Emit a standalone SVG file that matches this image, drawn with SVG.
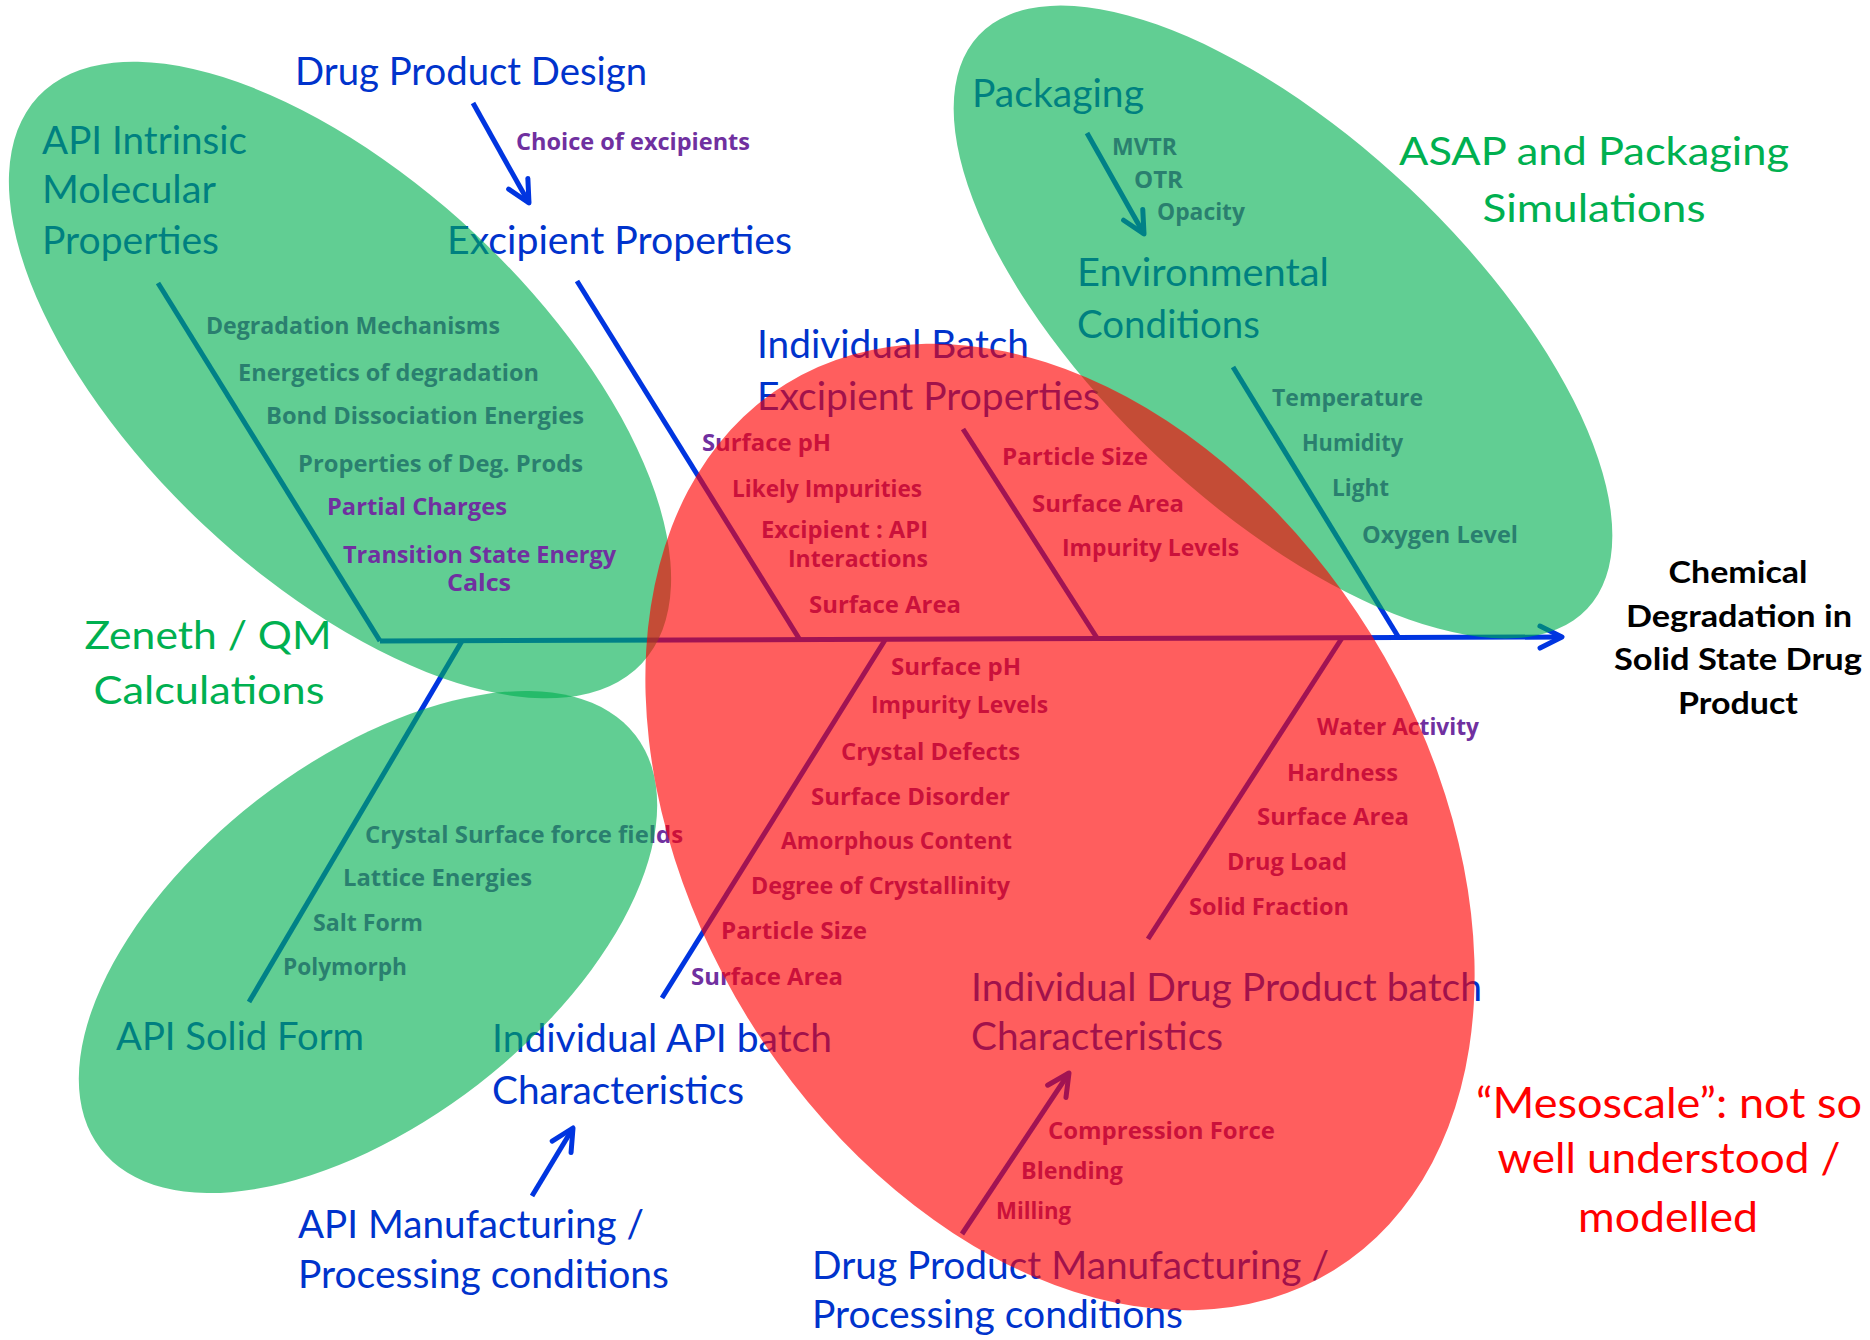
<svg xmlns="http://www.w3.org/2000/svg" width="1870" height="1340" viewBox="0 0 1870 1340">
  <style>
    .title { font-family: Lato, "Liberation Sans", sans-serif; font-size: 39px; fill: #0033CC; }
    .green { font-family: Lato, "Liberation Sans", sans-serif; font-size: 39px; fill: #00B050; }
    .meso { font-family: Lato, "Liberation Sans", sans-serif; font-size: 43px; fill: #FF0000; text-anchor: middle; }
    .effect { font-family: Lato, "Liberation Sans", sans-serif; font-size: 30px; font-weight: 700; fill: #000000; text-anchor: middle; }
    .item { font-family: "Open Sans", "Liberation Sans", sans-serif; font-size: 23px; font-weight: 700; fill: #7030A0; }
    .mid { text-anchor: middle; }
    .bone { fill: none; stroke: #0035E0; stroke-width: 5; }
    .zone-green { fill: #00B050; fill-opacity: 0.62; }
    .zone-red { fill: #FF0000; fill-opacity: 0.63; }
  </style>
  <defs>
    <marker id="openArrow" markerUnits="userSpaceOnUse" markerWidth="40" markerHeight="40" viewBox="0 0 40 40" refX="30" refY="20" orient="auto" overflow="visible">
      <path d="M8,9 L30,20 L8,31" fill="none" stroke="#0035E0" stroke-width="5" stroke-linecap="round" stroke-linejoin="round"/>
    </marker>
  </defs>

  <rect width="1870" height="1340" fill="#FFFFFF"/>

  <!-- fishbone: spine, ribs and influence arrows -->
  <g id="connectors">
    <path class="bone" d="M380,641 L1562,637" marker-end="url(#openArrow)"/>
    <path class="bone" d="M158,283 L380,641"/>
    <path class="bone" d="M577,281 L800,640"/>
    <path class="bone" d="M963,429 L1097,638"/>
    <path class="bone" d="M1233,367 L1399,638"/>
    <path class="bone" d="M462,641 L249,1002"/>
    <path class="bone" d="M885,640 L662,998"/>
    <path class="bone" d="M1342,638 L1148,939"/>
    <path class="bone" d="M473,103 L529,203" marker-end="url(#openArrow)"/>
    <path class="bone" d="M1087,133 L1144,234" marker-end="url(#openArrow)"/>
    <path class="bone" d="M532,1196 L573,1128" marker-end="url(#openArrow)"/>
    <path class="bone" d="M962,1234 L1069,1073" marker-end="url(#openArrow)"/>
  </g>

  <!-- API intrinsic molecular properties -->
  <g id="api-intrinsic">
    <text class="title" x="42" y="154" textLength="205" lengthAdjust="spacingAndGlyphs">API Intrinsic</text>
    <text class="title" x="42" y="203" textLength="174" lengthAdjust="spacingAndGlyphs">Molecular</text>
    <text class="title" x="42" y="254" textLength="177" lengthAdjust="spacingAndGlyphs">Properties</text>
    <text class="item" x="206" y="334" textLength="294" lengthAdjust="spacingAndGlyphs">Degradation Mechanisms</text>
    <text class="item" x="238" y="381" textLength="301" lengthAdjust="spacingAndGlyphs">Energetics of degradation</text>
    <text class="item" x="266" y="424" textLength="318" lengthAdjust="spacingAndGlyphs">Bond Dissociation Energies</text>
    <text class="item" x="298" y="472" textLength="285" lengthAdjust="spacingAndGlyphs">Properties of Deg. Prods</text>
  </g>

  <!-- drug product design / excipient properties -->
  <g id="drug-product-design">
    <text class="title" x="295" y="85" textLength="352" lengthAdjust="spacingAndGlyphs">Drug Product Design</text>
    <text class="item" x="516" y="150" textLength="234" lengthAdjust="spacingAndGlyphs">Choice of excipients</text>
  </g>
  <g id="excipient-properties">
    <text class="title" x="447" y="254" textLength="345" lengthAdjust="spacingAndGlyphs">Excipient Properties</text>
    <text class="item" x="702" y="451" textLength="129" lengthAdjust="spacingAndGlyphs">Surface pH</text>
    <text class="item" x="732" y="497" textLength="190" lengthAdjust="spacingAndGlyphs">Likely Impurities</text>
    <text class="item" x="761" y="538" textLength="167" lengthAdjust="spacingAndGlyphs">Excipient : API</text>
    <text class="item" x="788" y="567" textLength="140" lengthAdjust="spacingAndGlyphs">Interactions</text>
    <text class="item" x="809" y="613" textLength="152" lengthAdjust="spacingAndGlyphs">Surface Area</text>
  </g>

  <!-- individual batch excipient properties -->
  <g id="batch-excipient">
    <text class="title" x="757" y="358" textLength="272" lengthAdjust="spacingAndGlyphs">Individual Batch</text>
    <text class="title" x="757" y="410" textLength="343" lengthAdjust="spacingAndGlyphs">Excipient Properties</text>
    <text class="item" x="1002" y="465" textLength="146" lengthAdjust="spacingAndGlyphs">Particle Size</text>
    <text class="item" x="1032" y="512" textLength="152" lengthAdjust="spacingAndGlyphs">Surface Area</text>
    <text class="item" x="1062" y="556" textLength="177" lengthAdjust="spacingAndGlyphs">Impurity Levels</text>
  </g>

  <!-- packaging and environmental conditions -->
  <g id="packaging">
    <text class="title" x="972" y="107" textLength="172" lengthAdjust="spacingAndGlyphs">Packaging</text>
    <text class="item" x="1112" y="155" textLength="65" lengthAdjust="spacingAndGlyphs">MVTR</text>
    <text class="item" x="1134" y="188" textLength="49" lengthAdjust="spacingAndGlyphs">OTR</text>
    <text class="item" x="1157" y="220" textLength="88" lengthAdjust="spacingAndGlyphs">Opacity</text>
  </g>
  <g id="environmental-conditions">
    <text class="title" x="1077" y="286" textLength="252" lengthAdjust="spacingAndGlyphs">Environmental</text>
    <text class="title" x="1077" y="338" textLength="183" lengthAdjust="spacingAndGlyphs">Conditions</text>
    <text class="item" x="1272" y="406" textLength="151" lengthAdjust="spacingAndGlyphs">Temperature</text>
    <text class="item" x="1302" y="451" textLength="101" lengthAdjust="spacingAndGlyphs">Humidity</text>
    <text class="item" x="1332" y="496" textLength="57" lengthAdjust="spacingAndGlyphs">Light</text>
    <text class="item" x="1362" y="543" textLength="156" lengthAdjust="spacingAndGlyphs">Oxygen Level</text>
  </g>

  <!-- API solid form -->
  <g id="api-solid-form">
    <text class="item" x="365" y="843" textLength="318" lengthAdjust="spacingAndGlyphs">Crystal Surface force fields</text>
    <text class="item" x="343" y="886" textLength="189" lengthAdjust="spacingAndGlyphs">Lattice Energies</text>
    <text class="item" x="313" y="931" textLength="110" lengthAdjust="spacingAndGlyphs">Salt Form</text>
    <text class="item" x="283" y="975" textLength="124" lengthAdjust="spacingAndGlyphs">Polymorph</text>
    <text class="title" x="116" y="1050" textLength="248" lengthAdjust="spacingAndGlyphs">API Solid Form</text>
  </g>

  <!-- individual API batch characteristics -->
  <g id="api-batch">
    <text class="item" x="891" y="675" textLength="130" lengthAdjust="spacingAndGlyphs">Surface pH</text>
    <text class="item" x="871" y="713" textLength="177" lengthAdjust="spacingAndGlyphs">Impurity Levels</text>
    <text class="item" x="841" y="760" textLength="179" lengthAdjust="spacingAndGlyphs">Crystal Defects</text>
    <text class="item" x="811" y="805" textLength="199" lengthAdjust="spacingAndGlyphs">Surface Disorder</text>
    <text class="item" x="781" y="849" textLength="231" lengthAdjust="spacingAndGlyphs">Amorphous Content</text>
    <text class="item" x="751" y="894" textLength="259" lengthAdjust="spacingAndGlyphs">Degree of Crystallinity</text>
    <text class="item" x="721" y="939" textLength="146" lengthAdjust="spacingAndGlyphs">Particle Size</text>
    <text class="item" x="691" y="985" textLength="152" lengthAdjust="spacingAndGlyphs">Surface Area</text>
    <text class="title" x="492" y="1052" textLength="340" lengthAdjust="spacingAndGlyphs">Individual API batch</text>
    <text class="title" x="492" y="1104" textLength="252" lengthAdjust="spacingAndGlyphs">Characteristics</text>
  </g>
  <g id="api-manufacturing">
    <text class="title" x="298" y="1238" textLength="346" lengthAdjust="spacingAndGlyphs">API Manufacturing /</text>
    <text class="title" x="298" y="1288" textLength="371" lengthAdjust="spacingAndGlyphs">Processing conditions</text>
  </g>

  <!-- individual drug product batch characteristics -->
  <g id="dp-batch">
    <text class="item" x="1317" y="735" textLength="162" lengthAdjust="spacingAndGlyphs">Water Activity</text>
    <text class="item" x="1287" y="781" textLength="111" lengthAdjust="spacingAndGlyphs">Hardness</text>
    <text class="item" x="1257" y="825" textLength="152" lengthAdjust="spacingAndGlyphs">Surface Area</text>
    <text class="item" x="1227" y="870" textLength="120" lengthAdjust="spacingAndGlyphs">Drug Load</text>
    <text class="item" x="1189" y="915" textLength="160" lengthAdjust="spacingAndGlyphs">Solid Fraction</text>
    <text class="title" x="971" y="1001" textLength="511" lengthAdjust="spacingAndGlyphs">Individual Drug Product batch</text>
    <text class="title" x="971" y="1050" textLength="252" lengthAdjust="spacingAndGlyphs">Characteristics</text>
  </g>
  <g id="dp-manufacturing">
    <text class="item" x="1048" y="1139" textLength="227" lengthAdjust="spacingAndGlyphs">Compression Force</text>
    <text class="item" x="1021" y="1179" textLength="102" lengthAdjust="spacingAndGlyphs">Blending</text>
    <text class="item" x="996" y="1219" textLength="75" lengthAdjust="spacingAndGlyphs">Milling</text>
    <text class="title" x="812" y="1279" textLength="517" lengthAdjust="spacingAndGlyphs">Drug Product Manufacturing /</text>
    <text class="title" x="812" y="1328" textLength="371" lengthAdjust="spacingAndGlyphs">Processing conditions</text>
  </g>

  <!-- translucent modelling zones laid over the diagram -->
  <g id="zones">
    <ellipse class="zone-green" cx="340" cy="380" rx="414" ry="199" transform="rotate(43.2 340 380)"/>
    <ellipse class="zone-green" cx="368" cy="942" rx="338" ry="180" transform="rotate(-37.7 368 942)"/>
    <ellipse class="zone-green" cx="1283" cy="322" rx="418" ry="184" transform="rotate(43.3 1283 322)"/>
    <ellipse class="zone-red" cx="1060" cy="827" rx="521" ry="366" transform="rotate(58.3 1060 827)"/>
  </g>

  <!-- QM-derived items, drawn above the zone -->
  <g id="qm-items">
    <text class="item" x="327" y="515" textLength="180" lengthAdjust="spacingAndGlyphs">Partial Charges</text>
    <text class="item" x="343" y="563" textLength="273" lengthAdjust="spacingAndGlyphs">Transition State Energy</text>
    <text class="item" x="447" y="591" textLength="64" lengthAdjust="spacingAndGlyphs">Calcs</text>
  </g>

  <!-- zone captions -->
  <g id="zone-labels">
    <text class="green mid" x="208" y="649" textLength="247" lengthAdjust="spacingAndGlyphs">Zeneth / QM</text>
    <text class="green mid" x="209" y="704" textLength="231" lengthAdjust="spacingAndGlyphs">Calculations</text>
    <text class="green mid" x="1594" y="165" textLength="390" lengthAdjust="spacingAndGlyphs">ASAP and Packaging</text>
    <text class="green mid" x="1594" y="222" textLength="223" lengthAdjust="spacingAndGlyphs">Simulations</text>
    <text class="meso" x="1669" y="1118" textLength="386" lengthAdjust="spacingAndGlyphs">“Mesoscale”: not so</text>
    <text class="meso" x="1669" y="1173" textLength="343" lengthAdjust="spacingAndGlyphs">well understood /</text>
    <text class="meso" x="1668" y="1232" textLength="180" lengthAdjust="spacingAndGlyphs">modelled</text>
  </g>

  <!-- effect at the head of the fishbone -->
  <g id="effect">
    <text class="effect" x="1738" y="583" textLength="139" lengthAdjust="spacingAndGlyphs">Chemical</text>
    <text class="effect" x="1739" y="627" textLength="226" lengthAdjust="spacingAndGlyphs">Degradation in</text>
    <text class="effect" x="1738" y="670" textLength="248" lengthAdjust="spacingAndGlyphs">Solid State Drug</text>
    <text class="effect" x="1738" y="714" textLength="120" lengthAdjust="spacingAndGlyphs">Product</text>
  </g>
</svg>
